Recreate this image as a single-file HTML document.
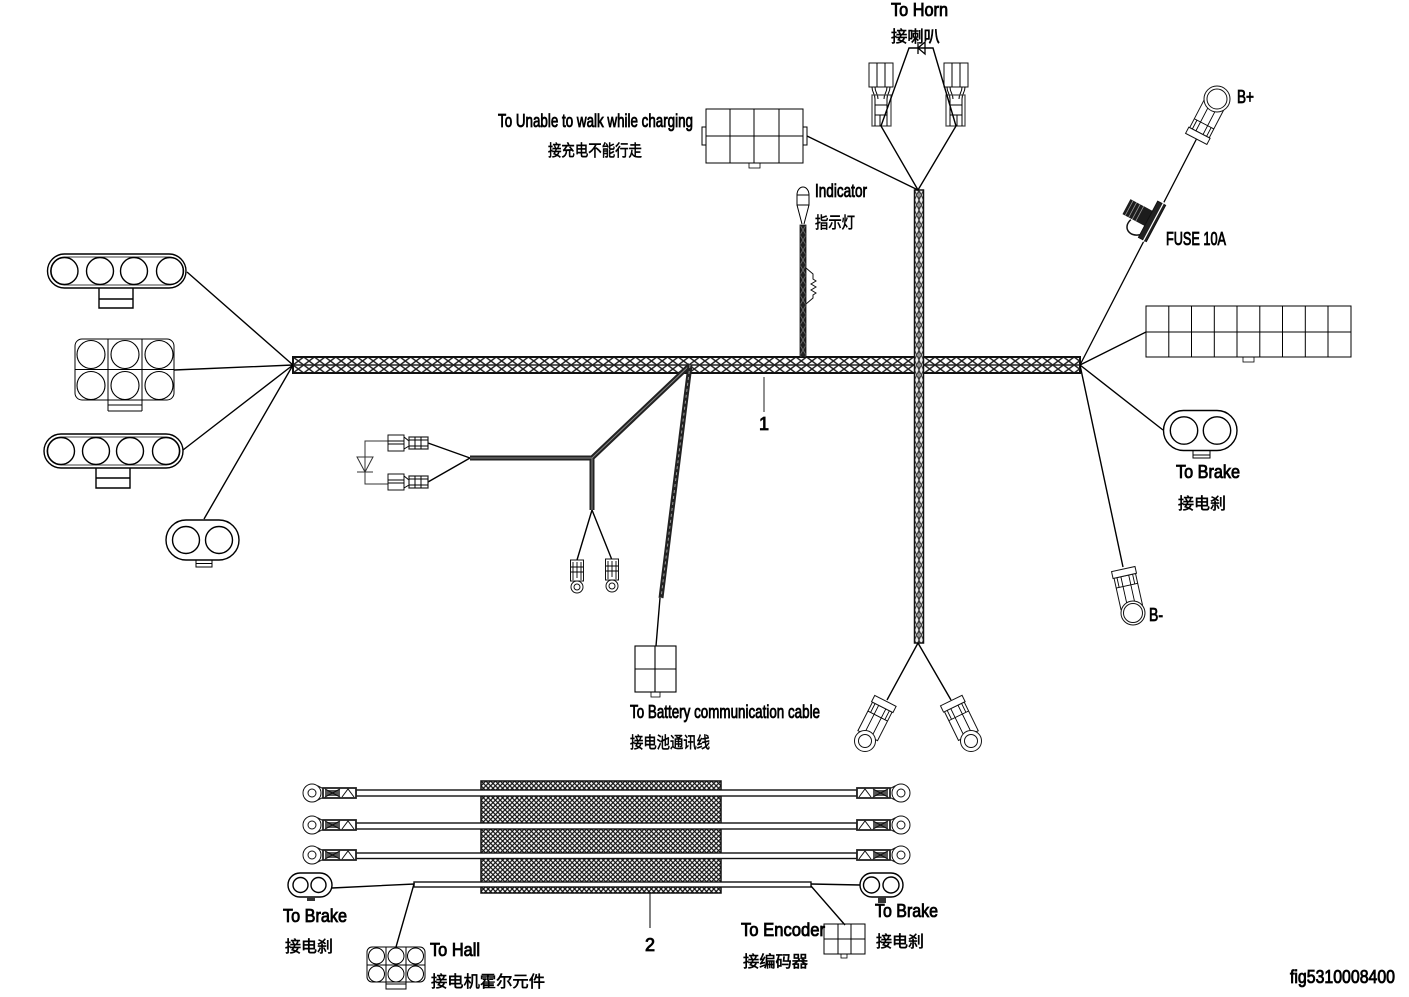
<!DOCTYPE html>
<html><head><meta charset="utf-8"><style>
html,body{margin:0;padding:0;background:#fff}
svg{display:block}
text{font-family:"Liberation Sans","Noto Sans CJK SC",sans-serif;fill:#000;stroke:#000;stroke-width:.85;font-size:18px}
.c{font-size:16px;stroke-width:.55}
.l{fill:none;stroke:#000;stroke-width:1.4}
.t{fill:#fff;stroke:#111;stroke-width:1}
</style></head><body>
<svg width="1409" height="997" viewBox="0 0 1409 997" xmlns="http://www.w3.org/2000/svg">
<defs>
<pattern id="bh" width="10.7" height="8" patternUnits="userSpaceOnUse" y="357" x="293"><rect width="10.7" height="8" fill="#fff"/><path d="M0 0L10.7 8M10.7 0L0 8" stroke="#222" stroke-width="1.5"/></pattern>
<pattern id="bv" width="4.5" height="10" patternUnits="userSpaceOnUse" x="914.5" y="190"><rect width="4.5" height="10" fill="#eee"/><path d="M0 0L4.500 10M4.500 0L0 10" stroke="#333" stroke-width="1"/></pattern>
<pattern id="br" width="6" height="10" patternUnits="userSpaceOnUse" x="800" y="225"><rect width="6" height="10" fill="#222"/><path d="M0 0L6 10M6 0L0 10" stroke="#777" stroke-width=".8"/></pattern>
<pattern id="fine" width="4.8" height="4.8" patternUnits="userSpaceOnUse" x="481" y="781"><rect width="4.8" height="4.8" fill="#fff"/><path d="M0 0L4.800 4.800M4.800 0L0 4.800" stroke="#111" stroke-width="1.200"/></pattern>
<g id="term"><path class="t" d="M-11 6V38H11V6Z"/><rect class="t" x="-12" y="38" width="24" height="7"/><path class="l" style="stroke-width:.9" d="M-4 10V38M4 10V38M-11 28H11M-8 38V28M8 38V28"/></g>
<g id="horn"><rect class="t" x="0" y="0" width="24" height="24"/><path class="l" style="stroke-width:1" d="M8 0V24M16 0V24M3 24C3 30 6 30 6 36M21 24C21 30 18 30 18 36M6 24C6 30 9 30 9 36M18 24C18 30 15 30 15 36"/><rect x="3" y="32" width="19" height="31" fill="none" stroke="#444" stroke-width="1.2"/><path class="l" style="stroke-width:1" d="M6 36V63M18 36V63M6 42H18M6 52H18M11 52V63"/></g>
<g id="spade"><rect class="t" x="0" y="0" width="16" height="16"/><path class="l" style="stroke-width:1" d="M0 6H16M0 9H16M16 2L21 6V11L16 14"/><rect x="21" y="2" width="19" height="12" fill="none" stroke="#222" stroke-width="1.2"/><path class="l" style="stroke-width:1" d="M21 5H40M21 11H40M27 2V14M33 2V14"/></g>
<g id="small"><rect class="t" x="-6.500" y="0" width="13" height="21"/><path class="l" style="stroke-width:.9" d="M-4 2V20M4 2V20M0 2V18M-6 7H6M-6 12H6"/><circle class="t" cx="0" cy="27" r="6"/><circle class="t" cx="0" cy="27" r="3"/></g>
<g id="lugL"><path class="t" d="M6 -7L12 -4V4L6 7Z"/><circle class="t" cx="0" cy="0" r="9"/><circle class="t" cx="0" cy="0" r="4"/><rect x="11" y="-5" width="33" height="10" fill="#fff" stroke="#222" stroke-width="1.800"/><path d="M13 -3H28V3H13Z" fill="#555"/><path d="M13 -4L28 4M28 -4L13 4M30 4L36 -4L42 4" stroke="#111" fill="none" stroke-width="1"/></g>
</defs>

<!-- main harness -->
<rect x="293" y="357" width="787" height="16" fill="url(#bh)" stroke="#111" stroke-width="2"/>
<line x1="293" y1="365" x2="1080" y2="365" stroke="#222" stroke-width="1.400"/>
<rect x="914.5" y="190" width="9" height="453" fill="url(#bv)" stroke="#111" stroke-width="1.500"/>
<line x1="919" y1="190" x2="919" y2="643" stroke="#333" stroke-width="1"/>

<!-- left connectors -->
<g class="l">
<path d="M187 272L293 365M174 370L293 365M183 450L293 365M204 519L293 365"/>
<rect x="47.500" y="254" width="138.500" height="34" rx="17"/>
<rect x="50.500" y="257" width="132.500" height="28" rx="14" style="stroke-width:.8"/>
<circle cx="64.500" cy="271" r="13.500"/><circle cx="100" cy="271" r="13.500"/><circle cx="134" cy="271" r="13.500"/><circle cx="170" cy="271" r="13.500"/>
<path d="M99 288V308H133V288M99 299H133"/>

<rect x="75" y="339" width="99" height="61" rx="7" style="stroke-width:1"/>
<path d="M108 339V411M142 339V411M75 369.500H174M108 411H142M108 405H142" style="stroke-width:1"/>
<circle cx="91" cy="354.500" r="14" style="stroke-width:1.100"/><circle cx="125" cy="354.500" r="14" style="stroke-width:1.100"/><circle cx="159" cy="354.500" r="14" style="stroke-width:1.100"/>
<circle cx="91" cy="385.500" r="14" style="stroke-width:1.100"/><circle cx="125" cy="385.500" r="14" style="stroke-width:1.100"/><circle cx="159" cy="385.500" r="14" style="stroke-width:1.100"/>

<rect x="44" y="434" width="139" height="34" rx="17"/>
<rect x="47" y="437" width="133" height="28" rx="14" style="stroke-width:.8"/>
<circle cx="61" cy="451" r="13.500"/><circle cx="96" cy="451" r="13.500"/><circle cx="130" cy="451" r="13.500"/><circle cx="166" cy="451" r="13.500"/>
<path d="M96 468V488H130V468M96 478H130"/>

<rect x="166" y="520" width="73" height="40" rx="20"/>
<circle cx="186" cy="540" r="13.500"/><circle cx="219" cy="540" r="13.500"/>
<path d="M196 560V567H212V560M196 563.500H212" style="stroke-width:1"/>
</g>

<!-- top connector -->
<g class="l">
<path d="M807 136L918 190"/>
<rect x="702" y="127" width="4" height="18" style="stroke-width:1"/><rect x="803" y="127" width="4" height="18" style="stroke-width:1"/>
<rect x="706" y="109" width="97" height="54" style="stroke-width:1"/>
<path d="M730 109V163M754 109V163M779 109V163M706 136H803" style="stroke-width:1"/>
<rect x="749" y="163" width="11" height="5" style="stroke-width:.8"/>
</g>

<!-- horn -->
<use href="#horn" x="869" y="63"/>
<use href="#horn" transform="translate(968 63) scale(-1 1)"/>
<g class="l">
<path d="M881 126L918 190L956 126M881 126L909 48H933L956 126"/>
<path d="M918 42V54M925 42L918 48L925 54Z" style="stroke-width:1.300"/>
</g>

<!-- indicator -->
<path class="l" d="M797 205V195A6 8 0 0 1 809 195V205ZM797 195H809M797 205L802 224M809 205L804 224" style="stroke-width:1"/>
<rect x="800" y="225" width="6" height="132" fill="url(#br)" stroke="#111" stroke-width=".8"/>
<path d="M806 268L813 274V279L816 281L811 284L816 287L811 290L816 293L813 295V298L806 304" fill="none" stroke="#111" stroke-width="1"/>

<!-- right side -->
<g class="l">
<path d="M1197 138L1080 365" style="stroke-width:1.300"/>
<path d="M1146 332L1080 365M1163 430L1080 365M1123 567L1080 365"/>
<rect x="1146" y="306" width="205" height="51" style="stroke-width:1"/>
<path d="M1168.800 306V357M1191.500 306V357M1214.300 306V357M1237 306V357M1259.800 306V357M1282.500 306V357M1305.300 306V357M1328 306V357M1146 332H1351" style="stroke-width:1"/>
<rect x="1243" y="357" width="11" height="5" style="stroke-width:.8"/>
<rect x="1163.500" y="410.500" width="73.500" height="40" rx="20"/>
<circle cx="1184" cy="430.500" r="13.700"/><circle cx="1217" cy="430.500" r="13.700"/>
<path d="M1193 451V458H1210V451M1193 455H1210" style="stroke-width:1"/>
</g>
<g transform="translate(1217 99) rotate(27.500)"><use href="#term"/></g>
<circle class="t" cx="1217" cy="99" r="13"/><circle class="t" cx="1217" cy="99" r="10"/>
<g transform="translate(1133 613) rotate(167.500)"><use href="#term"/></g>
<circle class="t" cx="1133" cy="613" r="12"/><circle class="t" cx="1133" cy="613" r="9.500"/>

<!-- fuse -->
<g transform="translate(1143 216) rotate(28)">
<rect x="-19" y="-9" width="25" height="17" fill="#1c1c1c"/>
<path d="M-16 -9V8M-12 -9V8M-8 -9V8M-4 -9V8" stroke="#999" stroke-width=".8"/>
<rect x="6" y="-20" width="9" height="41" fill="#222" stroke="#111"/>
<path d="M12 -22V23" stroke="#fff" stroke-width="1.200"/>
<path d="M-9 9C-13 20 -2 25 6 18" fill="none" stroke="#111" stroke-width="1.500"/>
</g>

<!-- bottom rings -->
<path class="l" d="M918 643L887 700M918 643L951 700"/>
<g transform="translate(865 741) rotate(207)"><use href="#term"/></g>
<circle class="t" cx="865" cy="741" r="10.500"/><circle class="t" cx="865" cy="741" r="6.500"/>
<g transform="translate(971 741) rotate(154)"><use href="#term"/></g>
<circle class="t" cx="971" cy="741" r="10.500"/><circle class="t" cx="971" cy="741" r="6.500"/>

<!-- branches -->
<path d="M690 365L592 458H470M592 458V510" fill="none" stroke="#222" stroke-width="5"/>
<path d="M690 365L592 458H470M592 458V510" fill="none" stroke="#888" stroke-width="1"/>
<path d="M690 365L661 598" fill="none" stroke="#222" stroke-width="5"/>
<path d="M690 365L661 598" fill="none" stroke="#999" stroke-width="1" stroke-dasharray="3 3"/>
<g class="l">
<path d="M660 598L656 646M470 458L428 443M470 458L428 482M592 510L577 560M592 510L612 560"/>
<rect x="635" y="646" width="41" height="46" style="stroke-width:1.100"/>
<path d="M655 646V692M635 669H676" style="stroke-width:1.100"/>
<rect x="651" y="692" width="9" height="5" style="stroke-width:.8"/>
<path d="M388 441H365V484H388M357 457H373L365 472ZM357 472H373" style="stroke-width:1;stroke:#333"/>
</g>
<use href="#spade" x="388" y="435"/>
<use href="#spade" x="388" y="474"/>
<use href="#small" x="577" y="560"/>
<use href="#small" x="612" y="559"/>
<line x1="764" y1="377" x2="764" y2="412" stroke="#222" stroke-width="1"/>

<!-- cable block -->
<rect x="481" y="781" width="240" height="112" fill="url(#fine)" stroke="#111" stroke-width="1.500"/>
<g fill="#fff" stroke="#111" stroke-width="1.400">
<rect x="356" y="790" width="501" height="6"/>
<rect x="356" y="823" width="501" height="6"/>
<rect x="356" y="853" width="501" height="5.500"/>
<rect x="414" y="882" width="397" height="5"/>
</g>
<use href="#lugL" x="312" y="793"/><use href="#lugL" x="312" y="825"/><use href="#lugL" x="312" y="855"/>
<use href="#lugL" transform="translate(901 793) scale(-1 1)"/><use href="#lugL" transform="translate(901 825) scale(-1 1)"/><use href="#lugL" transform="translate(901 855) scale(-1 1)"/>
<g class="l">
<path d="M650 893V928" style="stroke-width:1"/>
<path d="M332 888L414 884L396 947M811 884L860 885M811 886L845 925"/>
<rect x="288" y="873" width="44" height="24" rx="12"/>
<circle cx="300.500" cy="885" r="7.500"/><circle cx="318.500" cy="885" r="7.500"/>
<rect x="860" y="873" width="43" height="24" rx="12"/>
<circle cx="871.500" cy="885" r="8"/><circle cx="891" cy="885" r="8"/>
<rect x="367" y="947" width="58" height="35" rx="5" style="stroke-width:1"/>
<path d="M386 947V989H406V947M367 965H425M386 984H406" style="stroke-width:1"/>
<circle cx="376.500" cy="956" r="8" style="stroke-width:1"/><circle cx="396" cy="956" r="8" style="stroke-width:1"/><circle cx="415.500" cy="956" r="8" style="stroke-width:1"/>
<circle cx="376.500" cy="974" r="8" style="stroke-width:1"/><circle cx="396" cy="974" r="8" style="stroke-width:1"/><circle cx="415.500" cy="974" r="8" style="stroke-width:1"/>
<rect x="824" y="924" width="41" height="30" style="stroke-width:1"/>
<path d="M838 924V954M851 924V954M824 939H865" style="stroke-width:1"/>
<rect x="841" y="954" width="6" height="4" style="stroke-width:.8"/>
</g>
<rect x="307" y="897" width="8" height="4" fill="#333"/>
<rect x="878" y="897" width="8" height="6" fill="#333"/>

<!-- labels -->
<text x="891" y="16" textLength="57" lengthAdjust="spacingAndGlyphs">To Horn</text>
<text class="c" x="891" y="42" textLength="49" lengthAdjust="spacingAndGlyphs">接喇叭</text>
<text x="498" y="127" textLength="195" lengthAdjust="spacingAndGlyphs">To Unable to walk while charging</text>
<text class="c" x="548" y="156" textLength="94" lengthAdjust="spacingAndGlyphs">接充电不能行走</text>
<text x="815" y="197" textLength="52" lengthAdjust="spacingAndGlyphs">Indicator</text>
<text class="c" x="815" y="228" textLength="40" lengthAdjust="spacingAndGlyphs">指示灯</text>
<text x="1237" y="103" textLength="17" lengthAdjust="spacingAndGlyphs">B+</text>
<text x="1166" y="245" textLength="60" lengthAdjust="spacingAndGlyphs">FUSE 10A</text>
<text x="1176" y="478" textLength="64" lengthAdjust="spacingAndGlyphs">To Brake</text>
<text class="c" x="1178" y="509" textLength="48" lengthAdjust="spacingAndGlyphs">接电刹</text>
<text x="1149" y="621" textLength="14" lengthAdjust="spacingAndGlyphs">B-</text>
<text x="759" y="430">1</text>
<text x="630" y="718" textLength="190" lengthAdjust="spacingAndGlyphs">To Battery communication cable</text>
<text class="c" x="630" y="748" textLength="80" lengthAdjust="spacingAndGlyphs">接电池通讯线</text>
<text x="645" y="951">2</text>
<text x="283" y="922" textLength="64" lengthAdjust="spacingAndGlyphs">To Brake</text>
<text class="c" x="285" y="952" textLength="48" lengthAdjust="spacingAndGlyphs">接电刹</text>
<text x="430" y="956" textLength="50" lengthAdjust="spacingAndGlyphs">To Hall</text>
<text class="c" x="431" y="987" textLength="114" lengthAdjust="spacingAndGlyphs">接电机霍尔元件</text>
<text x="741" y="936" textLength="84" lengthAdjust="spacingAndGlyphs">To Encoder</text>
<text class="c" x="743" y="967" textLength="65" lengthAdjust="spacingAndGlyphs">接编码器</text>
<text x="875" y="917" textLength="63" lengthAdjust="spacingAndGlyphs">To Brake</text>
<text class="c" x="876" y="947" textLength="48" lengthAdjust="spacingAndGlyphs">接电刹</text>
<text x="1290" y="983" textLength="105" lengthAdjust="spacingAndGlyphs">fig5310008400</text>
</svg>
</body></html>
